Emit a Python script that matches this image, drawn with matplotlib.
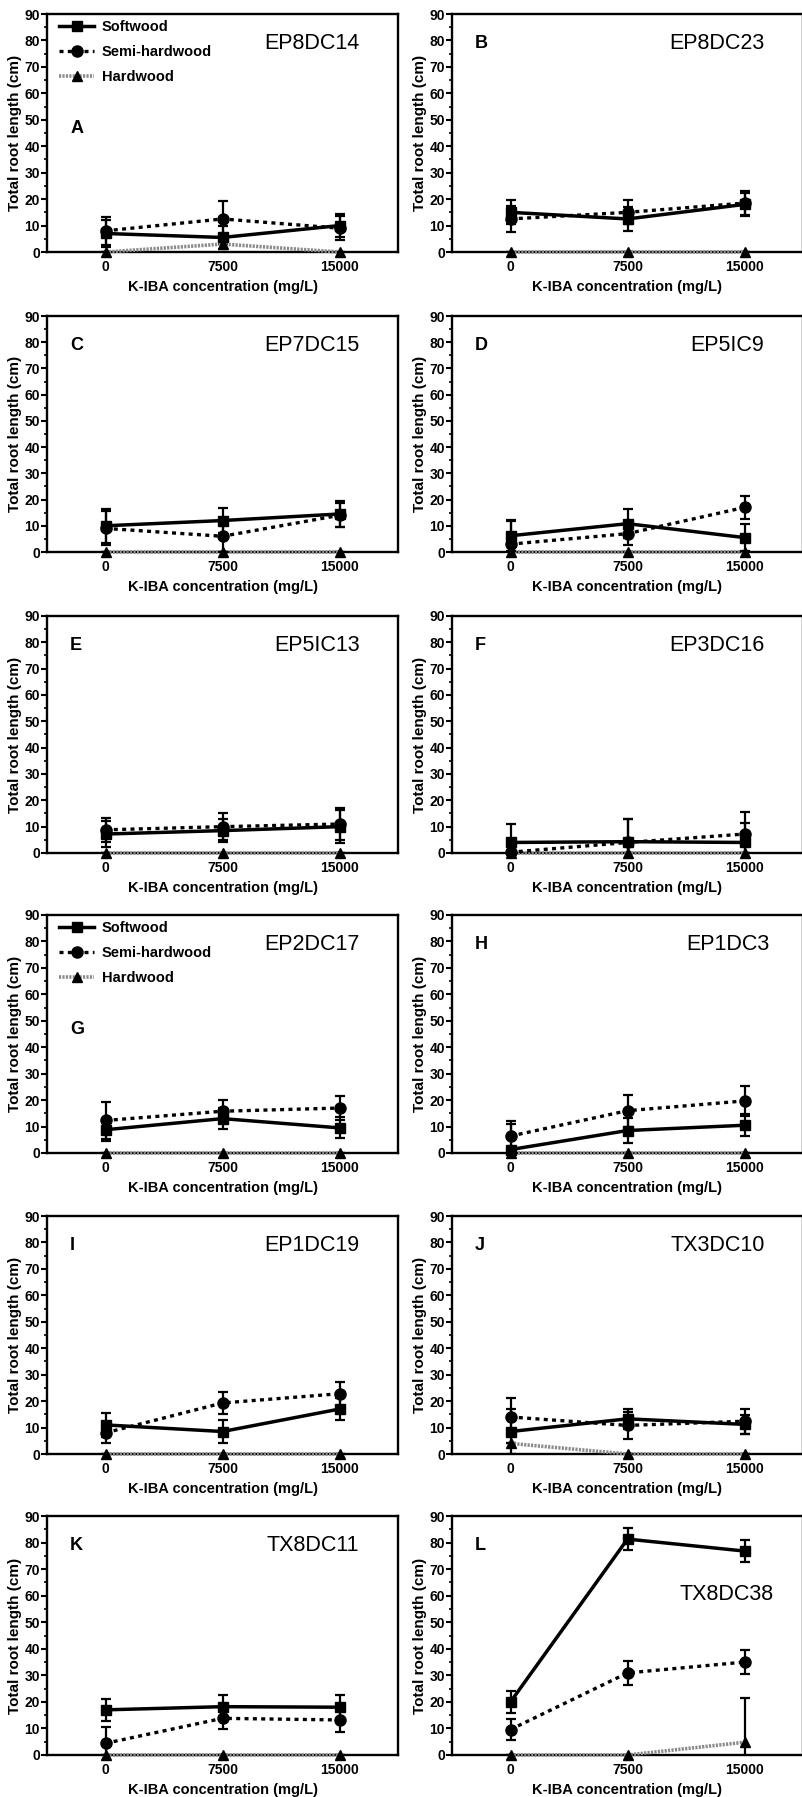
import matplotlib
matplotlib.use("Agg")
import matplotlib.pyplot as plt
from matplotlib.ticker import MultipleLocator, FixedLocator

plt.rcParams['font.family'] = ['Liberation Sans', 'DejaVu Sans']

# K-IBA concentrations (mg/L) applied to the cuttings
concentration = [0, 7500, 15000]

panel_letters = ["A", "B", "C", "D", "E", "F", "G", "H", "I", "J", "K", "L"]
clones = ["EP8DC14", "EP8DC23", "EP7DC15", "EP5IC9", "EP5IC13", "EP3DC16",
          "EP2DC17", "EP1DC3", "EP1DC19", "TX3DC10", "TX8DC11", "TX8DC38"]

# Mean total root length (cm) and error, one row per clone
softwood_mean = [
    [7.0, 5.5, 10.0],
    [15.0, 12.5, 18.0],
    [10.0, 12.0, 14.5],
    [6.2, 10.8, 5.5],
    [7.2, 8.5, 10.0],
    [4.0, 4.3, 4.0],
    [8.8, 13.0, 9.5],
    [1.3, 8.5, 10.5],
    [11.0, 8.5, 17.0],
    [8.5, 13.3, 11.2],
    [17.0, 18.2, 18.0],
    [20.0, 81.3, 76.8],
]
softwood_err = [
    [5.0, 4.2, 4.4],
    [4.5, 4.5, 4.5],
    [6.5, 4.7, 4.8],
    [6.0, 5.5, 5.0],
    [5.0, 4.5, 6.2],
    [7.0, 8.5, 7.5],
    [4.2, 4.0, 4.0],
    [9.5, 4.7, 4.2],
    [4.4, 4.2, 4.2],
    [8.5, 3.8, 3.6],
    [4.2, 4.4, 4.5],
    [4.0, 4.1, 4.2],
]

semihardwood_mean = [
    [8.0, 12.5, 9.0],
    [12.5, 15.0, 18.5],
    [9.0, 6.0, 14.0],
    [3.0, 7.0, 17.0],
    [8.8, 10.0, 11.0],
    [0.3, 4.0, 7.2],
    [12.3, 15.8, 17.0],
    [6.4, 16.0, 19.7],
    [8.0, 19.3, 22.8],
    [14.0, 10.8, 12.4],
    [4.4, 13.8, 13.2],
    [9.6, 30.9, 35.0],
]
semihardwood_err = [
    [5.3, 6.6, 4.6],
    [5.0, 4.5, 4.5],
    [6.5, 6.0, 4.5],
    [9.0, 4.5, 4.4],
    [4.5, 5.0, 6.0],
    [0.0, 9.0, 8.5],
    [7.0, 4.3, 4.4],
    [5.8, 6.0, 5.8],
    [4.0, 4.3, 4.6],
    [7.3, 5.1, 4.7],
    [6.3, 4.0, 4.4],
    [4.1, 4.5, 4.4],
]

hardwood_mean = [
    [0.0, 3.0, 0.0],
    [0.0, 0.0, 0.0],
    [0.0, 0.0, 0.0],
    [0.0, 0.0, 0.0],
    [0.0, 0.0, 0.0],
    [0.0, 0.0, 0.0],
    [0.0, 0.0, 0.0],
    [0.0, 0.0, 0.0],
    [0.0, 0.0, 0.0],
    [4.0, 0.0, 0.0],
    [0.0, 0.0, 0.0],
    [0.0, 0.0, 4.8],
]
hardwood_err = [
    [0.0, 0.0, 0.0],
    [0.0, 0.0, 0.0],
    [0.0, 0.0, 0.0],
    [0.0, 0.0, 0.0],
    [0.0, 0.0, 0.0],
    [0.0, 0.0, 0.0],
    [0.0, 0.0, 0.0],
    [0.0, 0.0, 0.0],
    [0.0, 0.0, 0.0],
    [0.0, 0.0, 0.0],
    [0.0, 0.0, 0.0],
    [0.0, 0.0, 16.5],
]

series_labels = ["Softwood", "Semi-hardwood", "Hardwood"]

# ---- layout (pixels of the 802 x 1797 canvas) ----
W, H = 802, 1797
row_top = [14, 316, 616, 915, 1216, 1516]
row_bottom = [252, 552, 853, 1153, 1454, 1755]
col_left = [47, 452]
ax_width = 351

fig = plt.figure(figsize=(W / 100, H / 100), dpi=100)
fig.patch.set_facecolor("white")

styles = {
    "Softwood": dict(color="black", linestyle="-", linewidth=2.5,
                     marker="s", markersize=7.5, zorder=5),
    "Semi-hardwood": dict(color="black", linestyle=(0, (1.2, 1.3)), linewidth=2.4,
                          marker="o", markersize=8, zorder=4),
    "Hardwood": dict(color="#8a8a8a", linestyle=(0, (0.6, 0.35)), linewidth=2.6,
                     marker="^", markersize=7, markerfacecolor="black",
                     markeredgecolor="black", zorder=3),
}

for i in range(12):
    r, c = divmod(i, 2)
    left = col_left[c]
    top, bottom = row_top[r], row_bottom[r]
    ax = fig.add_axes([left / W, 1 - bottom / H, ax_width / W, (bottom - top) / H])

    ax.set_xlim(-3750, 18750)
    ax.set_ylim(0, 90)

    series = [
        ("Hardwood", hardwood_mean[i], hardwood_err[i]),
        ("Semi-hardwood", semihardwood_mean[i], semihardwood_err[i]),
        ("Softwood", softwood_mean[i], softwood_err[i]),
    ]
    handles = {}
    for name, mean, err in series:
        st = styles[name]
        ax.errorbar(concentration, mean, yerr=err, fmt="none", ecolor="black",
                    elinewidth=1.6, capsize=3.8, capthick=1.6, zorder=st["zorder"] - 0.5)
        line, = ax.plot(concentration, mean, clip_on=False, label=name,
                        dash_capstyle="butt", **st)
        handles[name] = line

    # axes frame and ticks
    for sp in ax.spines.values():
        sp.set_linewidth(1.7)
        sp.set_color("black")
    ax.yaxis.set_major_locator(MultipleLocator(10))
    ax.yaxis.set_minor_locator(MultipleLocator(5))
    ax.xaxis.set_major_locator(FixedLocator(concentration))
    ax.set_xticklabels([str(v) for v in concentration])
    ax.tick_params(axis="y", which="major", direction="out", length=4, width=1.5,
                   labelsize=10, pad=1)
    ax.tick_params(axis="y", which="minor", direction="out", length=2.2, width=1.2)
    ax.tick_params(axis="x", which="both", length=0, labelsize=10, pad=6)
    for lab in ax.get_xticklabels() + ax.get_yticklabels():
        lab.set_fontweight("bold")

    ax.set_ylabel("Total root length (cm)", fontsize=11, fontweight="bold", labelpad=2)
    ax.set_xlabel("K-IBA concentration (mg/L)", fontsize=10.5, fontweight="bold",
                  labelpad=4)

    # clone name and panel letter
    name_x = 0.89
    name_y = 0.875
    if panel_letters[i] == "H":
        name_x = 0.905
    if panel_letters[i] == "L":
        name_x, name_y = 0.915, 0.67
    ax.text(name_x, name_y, clones[i], transform=ax.transAxes, fontsize=15.5,
            ha="right", va="center")

    letter_y = 0.52 if panel_letters[i] in ("A", "G") else 0.875
    ax.text(0.066, letter_y, panel_letters[i], transform=ax.transAxes,
            fontsize=13, fontweight="bold", ha="left", va="center")

    if panel_letters[i] in ("A", "G"):
        leg = ax.legend([handles[n] for n in series_labels], series_labels,
                        loc="upper left", bbox_to_anchor=(0.035, 0.975),
                        frameon=False, numpoints=1, handlelength=2.4,
                        handletextpad=0.5, labelspacing=0.75, borderaxespad=0,
                        borderpad=0, prop=dict(size=10.5, weight="bold"))

fig.savefig("out.png", dpi=100, facecolor="white")
